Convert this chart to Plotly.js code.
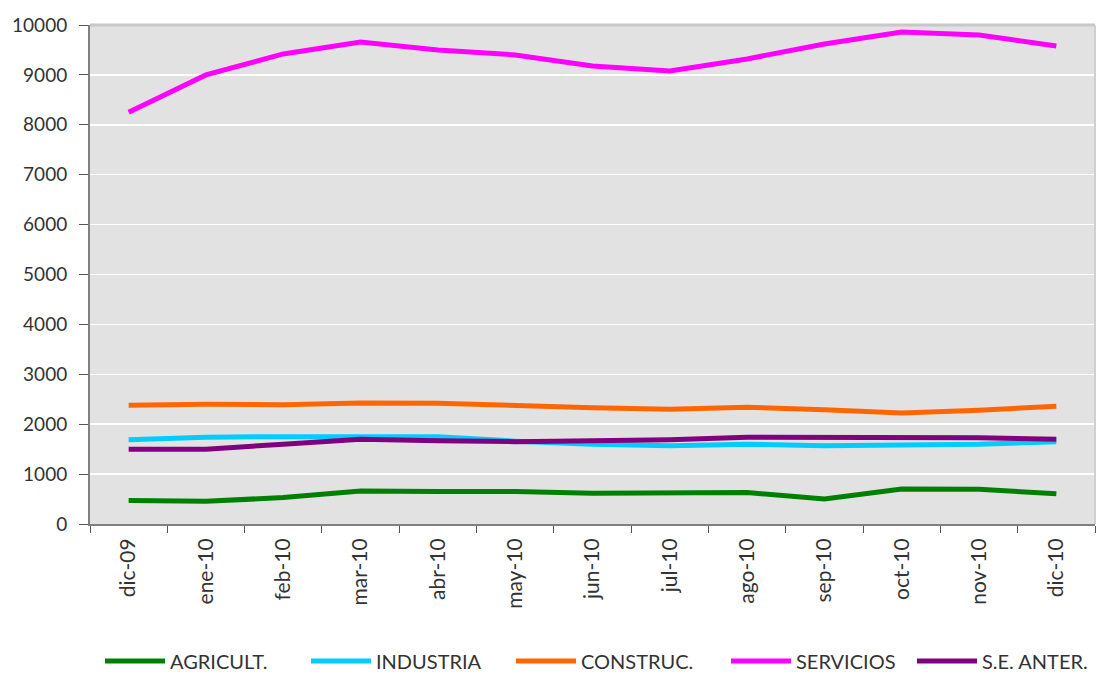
<!DOCTYPE html>
<html>
<head>
<meta charset="utf-8">
<script src="https://cdn.plot.ly/plotly-3.0.1.min.js"></script>
<style>html,body{margin:0;padding:0;background:#fff;}#chart{width:1097px;height:675px;}</style>
</head>
<body>
<div id="chart"></div>
<script>
const months = ["dic-09","ene-10","feb-10","mar-10","abr-10","may-10","jun-10","jul-10","ago-10","sep-10","oct-10","nov-10","dic-10"];
const agricult = [470, 455, 530, 660, 650, 650, 615, 620, 630, 500, 700, 695, 607];
const industria = [1690, 1740, 1750, 1760, 1750, 1660, 1600, 1570, 1600, 1570, 1590, 1600, 1650];
const construc = [2380, 2400, 2390, 2425, 2420, 2365, 2330, 2300, 2340, 2290, 2225, 2280, 2360];
const servicios = [8250, 9000, 9420, 9660, 9500, 9400, 9180, 9080, 9320, 9620, 9860, 9800, 9580];
const seAnter = [1500, 1500, 1600, 1700, 1670, 1650, 1670, 1690, 1740, 1740, 1720, 1730, 1700];
const seriesNames = ["AGRICULT.","INDUSTRIA","CONSTRUC.","SERVICIOS","S.E. ANTER."];
const seriesColors = ["#008000","#00ccff","#ff6600","#ff00ff","#800080"];
const seriesData = [agricult, industria, construc, servicios, seAnter];
const yTicks = [0,1000,2000,3000,4000,5000,6000,7000,8000,9000,10000];

const legendIds = ['legend','legend2','legend3','legend4','legend5'];
const legendStarts = [100, 306, 511, 726, 912];

const traces = seriesData.map((d,i)=>({
  x: months, y: d, type: 'scatter', mode: 'lines', name: seriesNames[i],
  legend: legendIds[i],
  line: {color: seriesColors[i], width: 5}
}));

const layout = {
  width: 1097, height: 675,
  margin: {l: 90, r: 2, t: 25, b: 151},
  paper_bgcolor: '#ffffff',
  plot_bgcolor: '#e2e2e2',
  font: {family: 'Lato, "Open Sans", sans-serif', color: '#333333', size: 20},
  showlegend: true,
  xaxis: {
    type: 'category', range: [-0.5, 12.5], tickangle: -90,
    ticks: 'outside', ticklen: 7, tickcolor: '#555', tickson: 'boundaries',
    ticklabelstandoff: 4,
    showgrid: false, showline: true, linecolor: '#808080', linewidth: 2,
    tickfont: {size: 21, color: '#333'}, fixedrange: true
  },
  yaxis: {
    range: [0, 10000], tickvals: yTicks, ticktext: yTicks.map(String),
    ticks: 'outside', ticklen: 9, tickcolor: '#555', ticklabelstandoff: 8,
    showgrid: true, gridcolor: '#ffffff', gridwidth: 1.5,
    showline: true, linecolor: '#808080', linewidth: 2,
    zeroline: false, tickfont: {size: 19, color: '#333'}
  },
  shapes: [
    {type:'line', xref:'paper', yref:'paper', x0:0, x1:1, y0:1, y1:1, line:{color:'#c8c8c8', width:3}},
    {type:'line', xref:'paper', yref:'paper', x0:1, x1:1, y0:0, y1:1, line:{color:'#d0d0d0', width:2}}
  ]
};
legendIds.forEach((id,i)=>{
  layout[id] = {
    orientation: 'h', xref: 'container', yref: 'container',
    x: legendStarts[i]/1097, y: (675-661)/675, xanchor: 'left', yanchor: 'middle',
    font: {size: 20, color: '#333333'},
    itemwidth: 60, bgcolor: 'rgba(0,0,0,0)'
  };
});

Plotly.newPlot('chart', traces, layout, {displayModeBar: false, staticPlot: true});
</script>
</body>
</html>
